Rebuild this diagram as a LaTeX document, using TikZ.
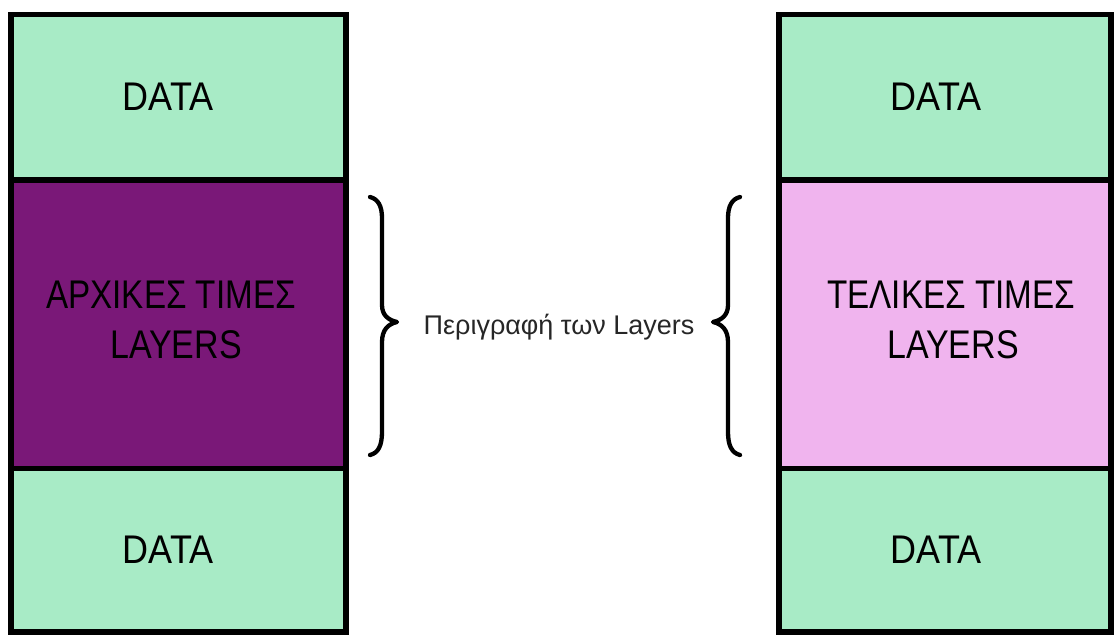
\documentclass[tikz,border=0pt]{standalone}
\usepackage{fontspec}
\setmainfont{Liberation Sans}
\usepackage{graphicx}
\definecolor{datagreen}{RGB}{168,235,198}
\definecolor{initpurple}{RGB}{122,24,120}
\definecolor{finalpink}{RGB}{240,180,238}
\newcommand\squeezed[2][0.83]{\scalebox{#1}[1]{#2}}
\tikzset{
  cell/.style={draw=black, line width=5.5pt, rectangle, inner sep=0pt, minimum width=#1},
  bigtext/.style={anchor=base, inner sep=0pt, font=\fontsize{40}{48}\selectfont, text=black},
  captiontext/.style={anchor=base, inner sep=0pt, font=\fontsize{27}{32}\selectfont, text=black!85},
  bracestroke/.style={line width=4.3pt, line cap=round, line join=round, draw=black}
}
\begin{document}
\begin{tikzpicture}[x=1pt,y=-1pt]
\useasboundingbox (0,0) rectangle (1114,635);
% left column
\node[cell=335pt, fill=datagreen, minimum height=165.5pt] (ltop) at (178.5,97.25) {};
\node[cell=335pt, fill=initpurple, minimum height=288.5pt] (lmid) at (178.5,324.25) {};
\node[cell=335pt, fill=datagreen, minimum height=163.5pt] (lbot) at (178.5,550.25) {};
% right column
\node[cell=332pt, fill=datagreen, minimum height=165.5pt] (rtop) at (945,97.25) {};
\node[cell=332pt, fill=finalpink, minimum height=288.5pt] (rmid) at (945,324.25) {};
\node[cell=332pt, fill=datagreen, minimum height=163.5pt] (rbot) at (945,550.25) {};
% texts
\node[bigtext] (ltoptext) at (168,110) {\squeezed[0.9]{DATA}};
\node[bigtext] (lmidtexta) at (171,308) {\squeezed{ΑΡΧΙΚΕΣ ΤΙΜΕΣ}};
\node[bigtext] (lmidtextb) at (176,358) {\squeezed[0.85]{LAYERS}};
\node[bigtext] (lbottext) at (168,563) {\squeezed[0.9]{DATA}};
\node[bigtext] (rtoptext) at (936,110) {\squeezed[0.9]{DATA}};
\node[bigtext] (rmidtexta) at (951,308) {\squeezed{ΤΕΛΙΚΕΣ ΤΙΜΕΣ}};
\node[bigtext] (rmidtextb) at (953,358) {\squeezed[0.85]{LAYERS}};
\node[bigtext] (rbottext) at (936,563) {\squeezed[0.9]{DATA}};
% caption
\node[captiontext] (caption) at (559,334) {Περιγραφή των Layers};
% braces
\draw[bracestroke] (370,197) .. controls (378,199) and (382,206) .. (382,218)
  -- (382,305) .. controls (382,315) and (388,320) .. (397,322)
  .. controls (388,324) and (382,330) .. (382,342)
  -- (382,432) .. controls (382,446) and (378,453) .. (370,455);
\draw[bracestroke] (740,197) .. controls (732,199) and (728,206) .. (728,218)
  -- (728,305) .. controls (728,315) and (722,320) .. (713,322)
  .. controls (722,324) and (728,330) .. (728,342)
  -- (728,432) .. controls (728,446) and (732,453) .. (740,455);
\end{tikzpicture}
\end{document}
